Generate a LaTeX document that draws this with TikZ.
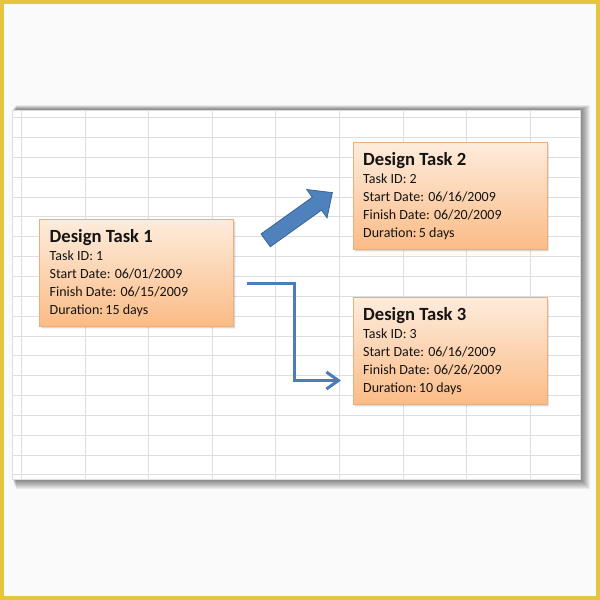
\documentclass[tikz,border=0pt]{standalone}
\usepackage{fontspec}
\setmainfont{Carlito}
\usetikzlibrary{shapes.arrows,arrows.meta,calc}
\definecolor{framec}{HTML}{E5C43E}
\definecolor{gridc}{HTML}{DEDEDE}
\definecolor{boxtop}{HTML}{FDECDD}
\definecolor{boxbot}{HTML}{FBBC86}
\definecolor{boxedge}{HTML}{EBAF7E}
\definecolor{arrfill}{HTML}{4F81BD}
\definecolor{arredge}{HTML}{3A6594}
\definecolor{linec}{HTML}{4A7EBB}
\definecolor{textc}{HTML}{141414}
\tikzset{
  taskbox/.style={draw=boxedge, line width=0.6pt, top color=boxtop, bottom color=boxbot,
    minimum width=194pt, minimum height=107pt, inner sep=0pt, outer sep=0pt},
  titletext/.style={font=\fontsize{18.6pt}{20pt}\selectfont\bfseries, text=textc, inner sep=0pt},
  bodytext/.style={font=\fontsize{14pt}{17pt}\selectfont, text=textc, inner sep=0pt},
  gridline/.style={gridc, line width=0.7pt},
  blockarrow/.style={single arrow, fill=arrfill, draw=arredge, line width=0.8pt,
    minimum height=82pt, minimum width=34pt, single arrow head extend=9.5pt,
    single arrow tip angle=85, inner xsep=0pt, inner ysep=7.5pt},
  elbow/.style={linec, line width=3pt, -{Straight Barb[length=12pt, width=17pt, line width=3pt]}}
}
\newcommand\taskbox[8]{%
  \foreach \k in {1,...,4} {\fill[black,opacity=0.05] ($(#2,#3)+(\k*0.5,\k*0.8)$) rectangle ++(194,107);}
  \node[taskbox, anchor=north west] (#1) at (#2,#3) {};
  \node[titletext, anchor=base west] (#1-a) at ($(#1.north west)+(10,23)$) {#4};
  \node[bodytext, anchor=base west] (#1-b) at ($(#1.north west)+(10,41.8)$) {Task ID: #5};
  \node[bodytext, anchor=base west] (#1-c) at ($(#1.north west)+(10,59.5)$) {Start Date: #6};
  \node[bodytext, anchor=base west] (#1-d) at ($(#1.north west)+(10,77.3)$) {Finish Date: #7};
  \node[bodytext, anchor=base west] (#1-e) at ($(#1.north west)+(10,95)$) {Duration:\,#8};
}
\begin{document}
\begin{tikzpicture}[x=1pt, y=-1pt]
  \useasboundingbox (0,0) rectangle (600,600);
  % frame and background
  \fill[white!98!black] (0,0) rectangle (600,600);
  \draw[framec, line width=4pt] (2,2) rectangle (598,598);
  % sheet shadow
  \foreach \k in {1,...,10} {\fill[black, opacity=0.06] (12+\k*0.4, 110-\k*0.5) rectangle (580+\k, 479+\k);}
  % sheet
  \fill[white] (12,110) rectangle (580,479);
  \foreach \gx in {21,85,148.5,212,275.5,339.5,403,466.5,530.5} {\draw[gridline] (\gx,110) -- (\gx,479);}
  \foreach \gk in {0,...,18} {\draw[gridline] (12,117.5+\gk*19.85) -- (580,117.5+\gk*19.85);}
  \draw[gridc, line width=0.5pt] (12,110) rectangle (580,479);
  % boxes
  \taskbox{t1}{39.5}{219}{Design Task 1}{1}{06/01/2009}{06/15/2009}{15 days}
  \taskbox{t2}{353}{142}{Design Task 2}{2}{06/16/2009}{06/20/2009}{5 days}
  \taskbox{t3}{353}{297}{Design Task 3}{3}{06/16/2009}{06/26/2009}{10 days}
  % block arrow from task 1 towards task 2
  \node[blockarrow, rotate=35.6] (ba) at (295.5,219) {};
  % elbow connector from task 1 to task 3
  \coordinate (e1) at ($(t1.east)+(13,10.5)$);
  \coordinate (e2) at ($(t3.west)+(-12,30)$);
  \draw[elbow] (e1) -- ++(48,0) |- (e2);
\end{tikzpicture}
\end{document}
